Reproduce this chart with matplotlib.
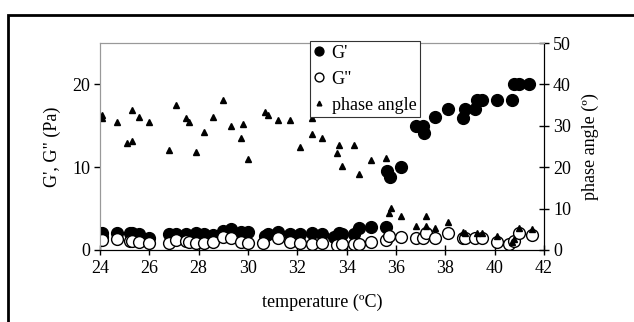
import numpy as np
import matplotlib
matplotlib.use("Agg")
import matplotlib.pyplot as plt
from matplotlib.patches import Rectangle

plt.rcParams['font.family'] = ['Liberation Serif', 'DejaVu Serif']
plt.rcParams['font.size'] = 13

# G' (storage modulus), Pa
t_g1 = [24.07, 24.07, 24.7, 25.2, 25.3, 25.6, 26.0, 26.8, 27.1, 27.5, 27.9, 28.2, 28.6,
        29.0, 29.3, 29.7, 30.0, 30.7, 30.8, 31.2, 31.7, 32.1, 32.6, 33.0, 33.5, 33.7,
        33.8, 34.3, 34.5, 35.0, 35.6, 35.65, 35.75, 36.2, 36.8, 37.1, 37.15, 37.6, 38.1,
        38.7, 38.8, 39.2, 39.3, 39.5, 40.1, 40.7, 40.8, 41.0, 41.4]
g1 = [2.1, 1.6, 2.0, 2.1, 2.1, 1.9, 1.5, 1.9, 1.9, 1.9, 2.1, 1.9, 1.8,
      2.3, 2.5, 2.2, 2.2, 1.7, 1.9, 2.2, 1.9, 1.9, 2.0, 1.9, 1.6, 2.1,
      1.9, 1.9, 2.6, 2.8, 2.8, 9.5, 8.8, 10.0, 15.0, 15.0, 14.1, 16.1, 17.0,
      16.0, 17.0, 17.0, 18.1, 18.1, 18.1, 18.1, 20.0, 20.0, 20.0]

# G'' (loss modulus), Pa
t_g2 = [24.07, 24.7, 25.2, 25.3, 25.6, 26.0, 26.8, 27.1, 27.5, 27.6, 27.9, 28.2, 28.6,
        29.0, 29.3, 29.7, 30.0, 30.6, 31.2, 31.7, 32.1, 32.6, 33.0, 33.6, 33.8, 34.3,
        34.5, 35.0, 35.6, 35.7, 36.2, 36.8, 37.1, 37.2, 37.6, 38.1, 38.7, 38.8, 39.2,
        39.5, 40.1, 40.6, 40.8, 41.0, 41.5]
g2 = [1.2, 1.3, 1.1, 1.1, 1.0, 0.9, 0.9, 1.2, 1.1, 1.0, 0.8, 0.8, 1.0,
      1.6, 1.4, 1.0, 0.8, 0.8, 1.4, 1.0, 0.8, 0.7, 0.8, 0.6, 0.7, 0.7,
      0.7, 1.0, 1.2, 1.7, 1.6, 1.5, 1.5, 2.0, 1.5, 2.0, 1.4, 1.4, 1.4,
      1.4, 1.0, 0.7, 1.1, 2.0, 1.8]

# phase angle, degrees
t_ph = [24.07, 24.07, 24.7, 25.1, 25.3, 25.3, 25.6, 26.0, 26.8, 27.1, 27.5, 27.6, 27.9,
        28.2, 28.6, 29.0, 29.3, 29.7, 29.8, 30.0, 30.7, 30.8, 31.2, 31.7, 32.1, 32.6,
        32.6, 33.0, 33.6, 33.7, 33.8, 34.3, 34.5, 35.0, 35.6, 35.7, 35.8, 36.2, 36.8,
        37.2, 37.2, 37.6, 38.1, 38.7, 38.8, 39.3, 39.5, 40.1, 40.7, 40.8, 41.0, 41.5]
phase = [32.6, 31.8, 31.0, 25.8, 26.4, 33.8, 32.2, 31.0, 24.2, 35.0, 31.8, 30.8, 23.6,
         28.4, 32.2, 36.2, 30.0, 27.0, 30.4, 22.0, 33.4, 32.5, 31.4, 31.4, 24.8, 31.8,
         28.0, 27.0, 23.4, 25.4, 20.4, 25.4, 18.3, 21.8, 22.2, 9.0, 10.2, 8.3, 5.9,
         8.2, 5.9, 5.2, 6.7, 4.4, 4.0, 4.0, 4.0, 3.4, 1.9, 2.7, 5.4, 5.0]

fig = plt.figure(figsize=(6.34, 3.22), dpi=100)
ax = fig.add_axes([100 / 634, 72 / 322, 444 / 634, 207 / 322])
ax2 = ax.twinx()

l1, = ax.plot(t_g1, g1, 'o', color='black', markersize=8.5, label="G'", zorder=3)
l2, = ax.plot(t_g2, g2, 'o', markerfacecolor='white', markeredgecolor='black',
              markeredgewidth=1.0, markersize=8.5, label='G"', zorder=4)
l3, = ax2.plot(t_ph, phase, '^', color='black', markersize=4.5, label='phase angle')

ax.set_xlim(24, 42)
ax.set_ylim(0, 25)
ax2.set_ylim(0, 50)
ax.set_xticks(np.arange(24, 43, 2))
ax.set_yticks([0, 10, 20])
ax2.set_yticks(np.arange(0, 51, 10))

ax.set_xlabel('temperature (ºC)', labelpad=12)
ax.set_ylabel("G', G\" (Pa)", labelpad=8)
ax2.set_ylabel('phase angle (º)', labelpad=8)

ax.tick_params(axis='x', direction='inout', length=7, width=1, pad=4)
ax.tick_params(axis='y', direction='out', length=4, width=1, pad=3)
ax2.tick_params(axis='y', direction='inout', length=7, width=1, pad=3)

for a in (ax, ax2):
    a.spines['top'].set_color('#999999')
    a.spines['left'].set_color('#999999')
    a.spines['bottom'].set_color('black')
    a.spines['right'].set_color('black')

leg = ax2.legend(handles=[l1, l2, l3], loc='upper left',
                 bbox_to_anchor=(310 / 634, 1 - 41 / 322), bbox_transform=fig.transFigure,
                 fancybox=False, edgecolor='#333333', framealpha=1,
                 handlelength=0.6, handletextpad=0.4, borderpad=0.2,
                 labelspacing=0.5, borderaxespad=0, markerscale=0.75)
leg.get_frame().set_linewidth(0.8)

# outer frame around the figure
fig.patches.append(Rectangle((8 / 634, -0.2), 1.2, 1 - 15 / 322 + 0.2, transform=fig.transFigure,
                             fill=False, edgecolor='black', linewidth=2))

fig.savefig('out.png', dpi=100)
